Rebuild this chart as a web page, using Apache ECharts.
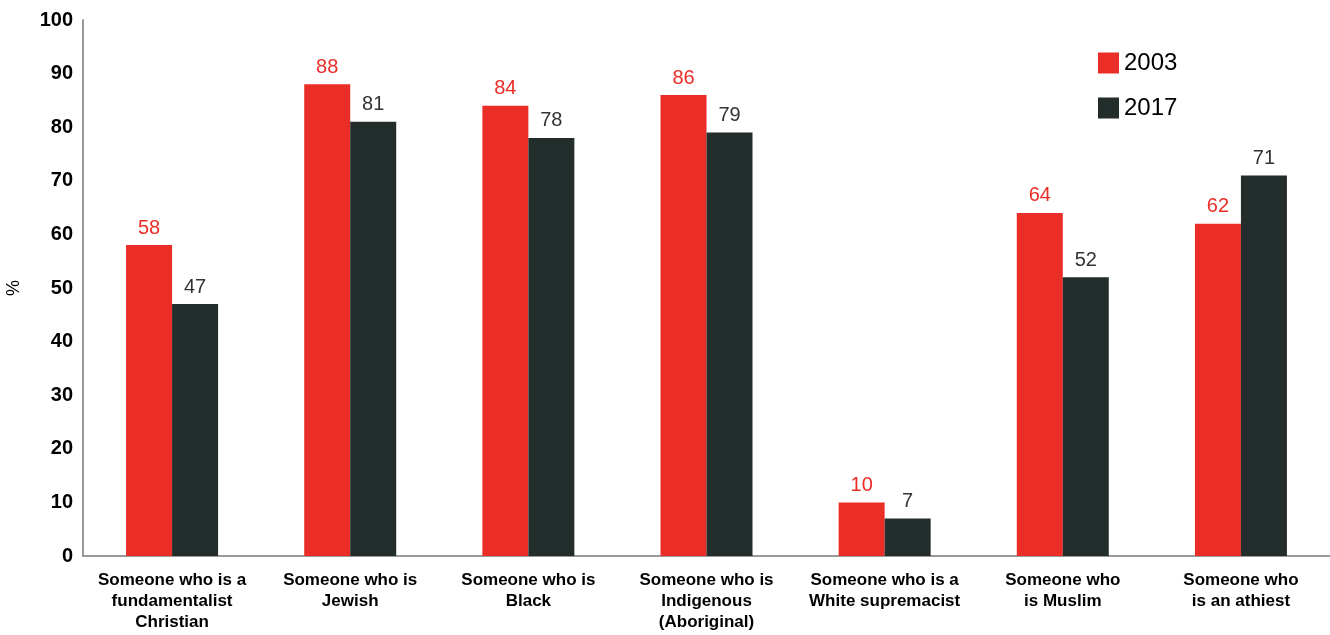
<!DOCTYPE html>
<html>
<head>
<meta charset="utf-8">
<script src="https://cdn.jsdelivr.net/npm/echarts@6/dist/echarts.min.js"></script>
<style>
  html, body { margin: 0; padding: 0; background: #fff; }
  #chart { width: 1330px; height: 635px; }
</style>
</head>
<body>
<div id="chart"></div>
<script>
// categories and values
const categories = [
    'Someone who is a\nfundamentalist\nChristian',
    'Someone who is\nJewish',
    'Someone who is\nBlack',
    'Someone who is\nIndigenous\n(Aboriginal)',
    'Someone who is a\nWhite supremacist',
    'Someone who\nis Muslim',
    'Someone who\nis an athiest'
]
const values2003 = [58, 88, 84, 86, 10, 64, 62]
const values2017 = [47, 81, 78, 79, 7, 52, 71]

const RED = '#EB2D27'
const DARK = '#232D2B'
const FONT = '"Liberation Sans", Arial, sans-serif'

let chart = echarts.init(document.getElementById('chart'))

chart.setOption({
    animation: false,
    textStyle: { fontFamily: FONT },
    grid: { left: 83, right: 0, top: 20, bottom: 79, outerBoundsMode: 'none' },
    legend: {
        orient: 'vertical',
        left: 1093,
        top: 46,
        itemWidth: 21,
        itemHeight: 21,
        itemGap: 21,
        icon: 'rect',
        textStyle: { fontSize: 24, color: '#000', fontFamily: FONT },
        data: ['2003', '2017']
    },
    xAxis: {
        type: 'category',
        data: categories,
        axisLine: { lineStyle: { color: '#999', width: 2 } },
        axisTick: { show: false },
        axisLabel: {
            color: '#000',
            fontSize: 17,
            fontWeight: 'bold',
            lineHeight: 21,
            margin: 14,
            interval: 0
        }
    },
    yAxis: {
        type: 'value',
        min: 0,
        max: 100,
        interval: 10,
        name: '%',
        nameLocation: 'middle',
        nameGap: 60,
        nameRotate: 90,
        nameTextStyle: { color: '#000', fontSize: 18 },
        axisLine: { show: true, lineStyle: { color: '#999', width: 2 } },
        axisTick: { show: false },
        splitLine: { show: false },
        axisLabel: { color: '#000', fontSize: 20, fontWeight: 'bold', margin: 10 }
    },
    series: [
        {
            name: '2003',
            type: 'bar',
            data: values2003,
            barWidth: 46,
            barGap: '0%',
            itemStyle: { color: RED },
            label: { show: true, position: 'top', color: RED, fontSize: 20, distance: 7 }
        },
        {
            name: '2017',
            type: 'bar',
            data: values2017,
            barWidth: 46,
            itemStyle: { color: DARK },
            label: { show: true, position: 'top', color: '#333', fontSize: 20, distance: 7 }
        }
    ]
})
</script>
</body>
</html>
